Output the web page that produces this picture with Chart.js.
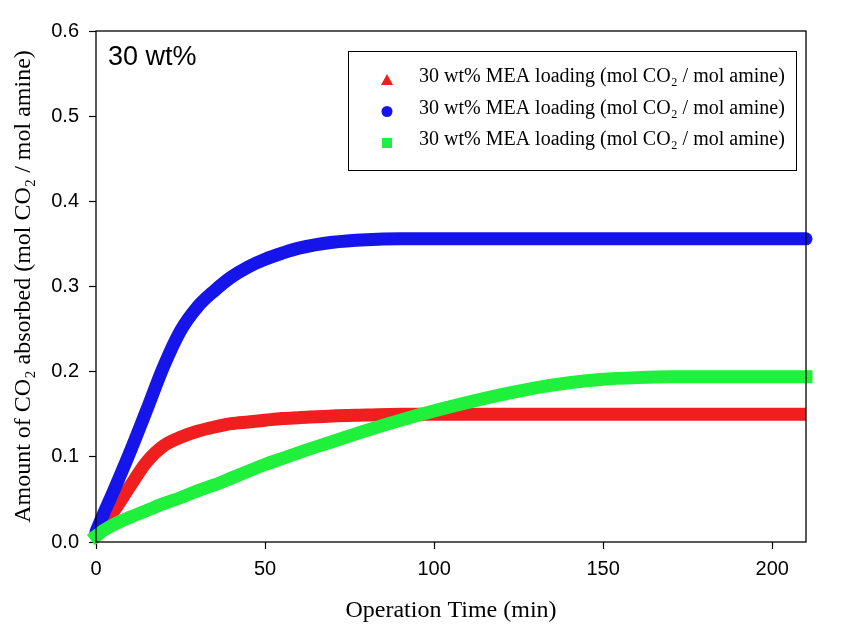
<!DOCTYPE html>
<html>
<head>
<meta charset="utf-8">
<script src="https://cdn.jsdelivr.net/npm/chart.js@4"></script>
<style>
  html, body { margin: 0; padding: 0; background: #fff; }
  #wrap { width: 845px; height: 636px; }
</style>
</head>
<body>
<div id="wrap"><canvas id="myChart" width="845" height="636"></canvas></div>
<script>
// operation time (min)
var times = [0, 2, 5, 10, 15, 20, 25, 30, 35, 40, 45, 50, 55, 60, 70, 80, 90, 100, 110, 120, 130, 140, 150, 160, 170, 180, 190, 200, 210];
// CO2 loading (mol CO2 / mol amine)
var redVals   = [0.012, 0.021, 0.035, 0.065, 0.094, 0.113, 0.123, 0.130, 0.135, 0.139, 0.141, 0.143, 0.145, 0.146, 0.148, 0.149, 0.150, 0.150, 0.150, 0.150, 0.150, 0.150, 0.150, 0.150, 0.150, 0.150, 0.150, 0.150, 0.150];
var blueVals  = [0.012, 0.031, 0.058, 0.105, 0.155, 0.206, 0.248, 0.276, 0.295, 0.311, 0.323, 0.332, 0.339, 0.345, 0.352, 0.355, 0.356, 0.356, 0.356, 0.356, 0.356, 0.356, 0.356, 0.356, 0.356, 0.356, 0.356, 0.356, 0.356];
var greenVals = [0.007, 0.013, 0.020, 0.029, 0.037, 0.045, 0.052, 0.060, 0.067, 0.075, 0.083, 0.091, 0.098, 0.105, 0.118, 0.131, 0.143, 0.154, 0.164, 0.173, 0.181, 0.187, 0.191, 0.193, 0.194, 0.194, 0.194, 0.194, 0.194];
var seriesLabel = '30 wt% MEA loading (mol CO\u2082 / mol amine)';
var xTicks = [0, 50, 100, 150, 200];
var yTicks = [0.0, 0.1, 0.2, 0.3, 0.4, 0.5, 0.6];

function pts(vals) {
  return times.map(function (t, i) { return { x: t, y: vals[i] }; });
}

var serif = "'Times New Roman', 'Liberation Serif', serif";
var sans = "Arial, 'Liberation Sans', sans-serif";

// legend box + "30 wt%" label + frame
var extras = {
  id: 'extras',
  afterDatasetsDraw: function (chart) {
    var c = chart.ctx, a = chart.chartArea;
    c.save();
    c.strokeStyle = '#000';
    c.lineWidth = 1.3;
    c.strokeRect(a.left, a.top, a.right - a.left, a.bottom - a.top);

    c.fillStyle = '#000';
    c.font = '27px ' + sans;
    c.textBaseline = 'middle';
    c.textAlign = 'left';
    c.fillText('30 wt%', 108, 58);

    c.fillStyle = '#fff';
    c.fillRect(348, 51, 449, 120);
    c.lineWidth = 1;
    c.strokeStyle = '#000';
    c.strokeRect(348.5, 51.5, 448, 119);

    var rows = [80, 111.5, 143];
    chart.data.datasets.forEach(function (ds, i) {
      var x = 387, y = rows[i];
      c.fillStyle = ds.borderColor;
      c.beginPath();
      if (ds.mark === 'triangle') {
        c.moveTo(x, y - 6); c.lineTo(x + 6, y + 5); c.lineTo(x - 6, y + 5); c.closePath();
      } else if (ds.mark === 'circle') {
        c.arc(x, y, 5.5, 0, Math.PI * 2);
      } else {
        c.rect(x - 5, y - 5, 10, 10);
      }
      c.fill();
      c.fillStyle = '#000';
      c.font = '20px ' + serif;
      c.textBaseline = 'middle';
      c.fillText(ds.label, 419, y - 3);
    });
    c.restore();
  }
};

var ctx = document.getElementById('myChart').getContext('2d');
var myChart = new Chart(ctx, {
  type: 'line',
  data: {
    datasets: [{
      label: seriesLabel,
      data: pts(redVals),
      borderColor: 'rgb(240,30,30)',
      mark: 'triangle',
      borderCapStyle: 'butt',
      order: 3
    }, {
      label: seriesLabel,
      data: pts(blueVals),
      borderColor: 'rgb(20,20,235)',
      mark: 'circle',
      borderCapStyle: 'round',
      order: 2
    }, {
      label: seriesLabel,
      data: pts(greenVals),
      borderColor: 'rgb(30,240,60)',
      mark: 'square',
      borderCapStyle: 'square',
      order: 1
    }]
  },
  options: {
    responsive: false,
    animation: false,
    clip: false,
    layout: { padding: { top: 31, right: 39, left: 0, bottom: 0 } },
    elements: {
      line: { borderWidth: 13, cubicInterpolationMode: 'monotone', fill: false },
      point: { radius: 0, hoverRadius: 0 }
    },
    plugins: { legend: { display: false }, tooltip: { enabled: false } },
    scales: {
      x: {
        type: 'linear',
        min: 0,
        max: 210,
        afterBuildTicks: function (s) { s.ticks = xTicks.map(function (v) { return { value: v }; }); },
        afterFit: function (s) { s.height = 94; },
        border: { display: false },
        grid: { drawOnChartArea: false, drawTicks: true, tickLength: 7, tickColor: '#000', tickWidth: 1.2 },
        ticks: { color: '#000', font: { family: sans, size: 20 }, padding: 8, maxRotation: 0 },
        title: { display: true, text: 'Operation Time (min)', color: '#000', font: { family: serif, size: 24 }, padding: { top: 0, bottom: 11 } }
      },
      y: {
        min: 0,
        max: 0.6,
        afterBuildTicks: function (s) { s.ticks = yTicks.map(function (v) { return { value: v }; }); },
        afterFit: function (s) { s.width = 96; },
        border: { display: false },
        grid: { drawOnChartArea: false, drawTicks: true, tickLength: 7, tickColor: '#000', tickWidth: 1.2 },
        ticks: { color: '#000', font: { family: sans, size: 20 }, padding: 10, callback: function (v) { return Number(v).toFixed(1); } },
        title: { display: true, text: 'Amount of CO\u2082 absorbed (mol CO\u2082 / mol amine)', color: '#000', font: { family: serif, size: 24 }, padding: { top: 9, bottom: 0 } }
      }
    }
  },
  plugins: [extras]
});
</script>
</body>
</html>
